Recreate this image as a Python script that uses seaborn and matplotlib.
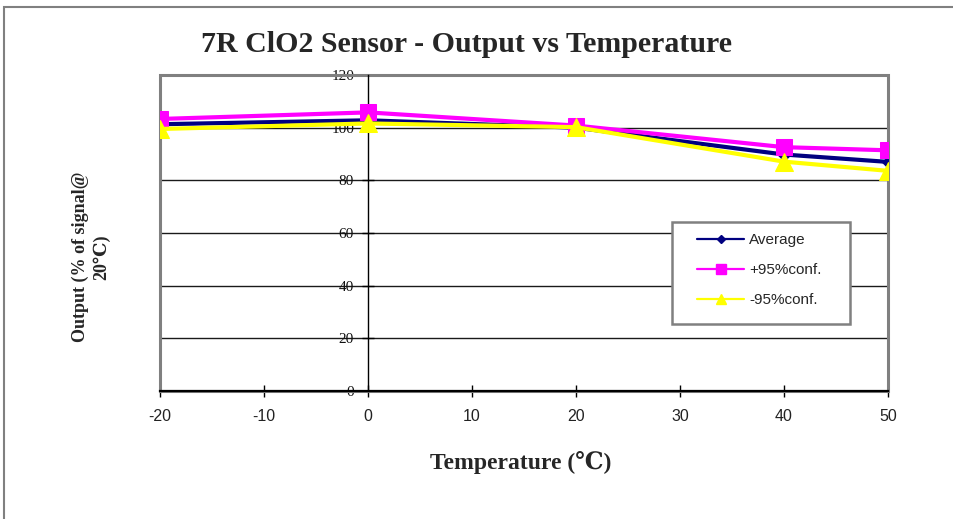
import numpy as np
import pandas as pd
import matplotlib
matplotlib.use('Agg')
import matplotlib.pyplot as plt
import seaborn as sns
from matplotlib.patches import Rectangle
from matplotlib.lines import Line2D

# ---- data ----
temperature = [-20, 0, 20, 40, 50]
average = [101.3, 102.8, 100.0, 89.8, 87.0]
upper_95 = [103.3, 105.8, 100.8, 92.6, 91.4]
lower_95 = [99.5, 101.6, 100.2, 87.1, 83.6]
series_names = ['Average', '+95%conf.', '-95%conf.']
x_ticks = [-20, -10, 0, 10, 20, 30, 40, 50]
y_ticks = [0, 20, 40, 60, 80, 100, 120]

sns.set_theme(style='white')
plt.rcParams['font.family'] = ['Liberation Sans', 'DejaVu Sans']
serif = ['Liberation Serif', 'DejaVu Serif']

df = pd.DataFrame({
    'Temperature': temperature * 3,
    'Output': average + upper_95 + lower_95,
    'Series': np.repeat(series_names, len(temperature)),
})

W, H = 954, 519
fig = plt.figure(figsize=(W / 100, H / 100), dpi=100)
fig.patch.set_facecolor('white')
ax = fig.add_axes([160 / W, 1 - 391 / H, 728 / W, 316 / H])
ax.set_facecolor('white')

colors = {'Average': '#000080', '+95%conf.': '#FF00FF', '-95%conf.': '#FFFF00'}
markers = {'Average': 'D', '+95%conf.': 's', '-95%conf.': '^'}
msizes = {'Average': 6, '+95%conf.': 11.5, '-95%conf.': 12.5}

for i, name in enumerate(series_names):
    sub = df[df['Series'] == name]
    sns.lineplot(data=sub, x='Temperature', y='Output', ax=ax, color=colors[name],
                 marker=markers[name], markersize=msizes[name], markeredgecolor=colors[name],
                 linewidth=3.0, legend=False, zorder=5 + i)

ax.set_xlim(-20, 50)
ax.set_ylim(0, 120)
ax.set_xticks(x_ticks)
ax.set_yticks(y_ticks)
ax.set_xticklabels([str(v) for v in x_ticks])
ax.set_yticklabels([str(v) for v in y_ticks])

# horizontal gridlines
ax.yaxis.grid(True, color='#1a1a1a', linewidth=1)
ax.xaxis.grid(False)
ax.set_axisbelow(True)

# spines: y-axis crosses at x=0, x-axis at y=0
for s in ['top', 'right']:
    ax.spines[s].set_visible(False)
ax.spines['left'].set_position(('data', 0))
ax.spines['left'].set_color('black')
ax.spines['left'].set_linewidth(1)
ax.spines['bottom'].set_color('black')
ax.spines['bottom'].set_linewidth(1.6)
ax.spines['bottom'].set_zorder(4)
ax.add_patch(Rectangle((0, 0), 1, 1, transform=ax.transAxes, fill=False,
                       edgecolor='#808080', linewidth=2.2, clip_on=False, zorder=1))

ax.tick_params(axis='x', direction='inout', length=8, width=1, color='black', pad=9,
               bottom=True, labelsize=11.5, labelcolor='#222222')
ax.tick_params(axis='y', direction='inout', length=8, width=1, color='black', pad=6,
               left=True, labelsize=11, labelcolor='#111111',
               labelfontfamily='Liberation Serif')

ax.set_xlabel('Temperature (℃)', fontsize=17, fontweight='bold', family=serif)
ax.xaxis.set_label_coords((521 - 160) / 728, (391 - 451) / 316)
ax.set_ylabel('')
fig.text(91 / W, 1 - 257 / H, 'Output (% of signal@\n20℃)', rotation=90,
         ha='center', va='center', multialignment='center',
         fontsize=13, fontweight='bold', family=serif, linespacing=1.3)

fig.text(467 / W, 1 - 44 / H, '7R ClO2 Sensor - Output vs Temperature',
         ha='center', va='center', fontsize=21.5, fontweight='bold', family=serif)

# legend box (drawn as a frame behind the legend entries)
ax.add_patch(Rectangle(((672 - 160) / 728, (391 - 324) / 316), 178 / 728, 102 / 316,
                       transform=ax.transAxes, facecolor='white', edgecolor='#808080',
                       linewidth=1.8, zorder=9))
handles = [Line2D([0], [0], color=colors[n], marker=markers[n],
                  markersize={'Average': 4.5, '+95%conf.': 6.5, '-95%conf.': 6.5}[n],
                  markeredgecolor=colors[n], linewidth=1.6) for n in series_names]
leg = ax.legend(handles, series_names, loc='center left',
                bbox_to_anchor=((697 - 160) / 728, (391 - 270) / 316),
                frameon=False, fontsize=11, labelspacing=1.05, handlelength=3.1,
                handletextpad=0.3, borderpad=0, borderaxespad=0)
leg.set_zorder(10)

# outer chart frame
fig.patches.append(Rectangle((4 / W, -0.2), 1.2, 1 - 7 / H + 0.2, transform=fig.transFigure,
                             fill=False, edgecolor='#808080', linewidth=1.5))

fig.savefig('out.png', dpi=100, facecolor='white')
